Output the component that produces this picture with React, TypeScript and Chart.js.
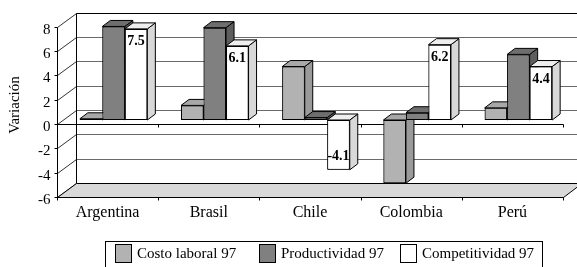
import React, { useEffect, useRef } from "react";
import { Chart, registerables } from "chart.js";

Chart.register(...registerables);

const categories = ["Argentina", "Brasil", "Chile", "Colombia", "Perú"];
const costoLaboral = [0.1, 1.2, 4.4, -5.2, 1.0];
const productividad = [7.7, 7.6, 0.2, 0.6, 5.4];
const competitividad = [7.5, 6.1, -4.1, 6.2, 4.4];
const seriesLabels = ["Costo laboral 97", "Productividad 97", "Competitividad 97"];
const yTicks = [-6, -4, -2, 0, 2, 4, 6, 8];
const yTitle = "Variación";

const FONT = '"Liberation Serif", "Times New Roman", serif';
const FRONT_COLORS = ["#b2b2b2", "#808080", "#ffffff"];
const TOP_COLORS = ["#a8a8a8", "#6e6e6e", "#eeeeee"];
const SIDE_COLORS = ["#9a9a9a", "#5e5e5e", "#d8d8d8"];

// depth offsets relative to the bar front plane
const FR = { dx: -6, dy: 4 };
const BK = { dx: 13, dy: -10 };
const BD = { dx: 8, dy: -6 };

const crisp = (v: number) => Math.round(v) + 0.5;

function line(ctx: CanvasRenderingContext2D, x1: number, y1: number, x2: number, y2: number) {
  ctx.beginPath();
  ctx.moveTo(x1, y1);
  ctx.lineTo(x2, y2);
  ctx.stroke();
}

const threeD = {
  id: "threeD",
  beforeDatasetsDraw(chart: any) {
    const { ctx, chartArea } = chart;
    const { left, right } = chartArea;
    const ys = chart.scales.y;
    const xs = chart.scales.x;
    const yMax = yTicks[yTicks.length - 1];
    const yMin = yTicks[0];
    const py = (v: number) => ys.getPixelForValue(v);
    ctx.save();
    ctx.lineWidth = 1;
    const bl = crisp(left + BK.dx);
    const br = right + BK.dx;
    ctx.fillStyle = "#ffffff";
    ctx.fillRect(bl, py(yMax) + BK.dy, br - bl, py(yMin) - py(yMax));
    yTicks.forEach((v) => {
      const yb = crisp(py(v) + BK.dy);
      ctx.strokeStyle = v === yMax ? "#000" : "#6a6a6a";
      line(ctx, bl, yb, br + 10, yb);
      ctx.strokeStyle = "#333";
      line(ctx, crisp(left + FR.dx), crisp(py(v) + FR.dy), bl, yb);
    });
    ctx.strokeStyle = "#000";
    line(ctx, bl, crisp(py(yMax) + BK.dy), bl, crisp(py(yMin) + BK.dy));
    const fy = crisp(py(yMin) + FR.dy);
    const by = crisp(py(yMin) + BK.dy);
    ctx.beginPath();
    ctx.moveTo(crisp(left + FR.dx), fy);
    ctx.lineTo(crisp(right + FR.dx), fy);
    ctx.lineTo(right + BK.dx, by);
    ctx.lineTo(bl, by);
    ctx.closePath();
    ctx.fillStyle = "#d9d9d9";
    ctx.fill();
    ctx.strokeStyle = "#000";
    ctx.stroke();
    const fx = crisp(left + FR.dx);
    line(ctx, fx, crisp(py(yMax) + FR.dy), fx, fy);
    ctx.fillStyle = "#000";
    ctx.font = `15px ${FONT}`;
    ctx.textAlign = "right";
    ctx.textBaseline = "middle";
    yTicks.forEach((v) => {
      const yf = crisp(py(v) + FR.dy);
      line(ctx, fx - 3, yf, fx, yf);
      ctx.fillText(String(v), fx - 7, yf + 3);
    });
    const y0 = crisp(py(0) + FR.dy);
    line(ctx, fx, y0, crisp(right + FR.dx), y0);
    const cw = (xs.right - xs.left) / categories.length;
    for (let i = 0; i <= categories.length; i++) {
      const bx = crisp(xs.left + i * cw + FR.dx);
      line(ctx, bx, y0, bx, y0 + 3);
      line(ctx, bx, fy, bx, fy + 3);
    }
    ctx.textAlign = "center";
    ctx.font = `16px ${FONT}`;
    categories.forEach((c, i) => {
      ctx.fillText(c, xs.getPixelForValue(i) + FR.dx, fy + 15);
    });
    ctx.restore();
  },
  afterDatasetsDraw(chart: any) {
    const { ctx } = chart;
    ctx.save();
    ctx.lineWidth = 1;
    for (let di = 0; di < 3; di++) {
      const meta = chart.getDatasetMeta(di);
      meta.data.forEach((bar: any) => {
        bar.draw(ctx, chart.chartArea);
        const p = bar.getProps(["x", "y", "base", "width"], true);
        const l = p.x - p.width / 2;
        const r = p.x + p.width / 2;
        const t = Math.min(p.y, p.base);
        const b = Math.max(p.y, p.base);
        ctx.strokeStyle = "#000";
        ctx.lineWidth = 1;
        ctx.beginPath();
        ctx.moveTo(r, t);
        ctx.lineTo(r + BD.dx, t + BD.dy);
        ctx.lineTo(r + BD.dx, b + BD.dy);
        ctx.lineTo(r, b);
        ctx.closePath();
        ctx.fillStyle = SIDE_COLORS[di];
        ctx.fill();
        ctx.stroke();
        ctx.beginPath();
        ctx.moveTo(l, t);
        ctx.lineTo(r, t);
        ctx.lineTo(r + BD.dx, t + BD.dy);
        ctx.lineTo(l + BD.dx, t + BD.dy);
        ctx.closePath();
        ctx.fillStyle = TOP_COLORS[di];
        ctx.fill();
        ctx.stroke();
      });
    }
    const meta = chart.getDatasetMeta(2);
    ctx.fillStyle = "#000";
    ctx.font = `bold 14px ${FONT}`;
    ctx.textAlign = "center";
    ctx.textBaseline = "middle";
    meta.data.forEach((bar: any, i: number) => {
      const p = bar.getProps(["x", "y", "base"], true);
      const v = competitividad[i];
      const ty = v >= 0 ? p.y + 12.5 : p.y - 13;
      ctx.fillText(v.toFixed(1), p.x, ty);
    });
    ctx.restore();
  },
  afterDraw(chart: any) {
    const { ctx } = chart;
    ctx.save();
    ctx.fillStyle = "#000";
    ctx.font = `15px ${FONT}`;
    ctx.textAlign = "center";
    ctx.textBaseline = "middle";
    ctx.translate(15, 105);
    ctx.rotate(-Math.PI / 2);
    ctx.fillText(yTitle, 0, 0);
    ctx.restore();
    ctx.save();
    ctx.lineWidth = 1;
    ctx.strokeStyle = "#000";
    ctx.strokeRect(105.5, 241.5, 437, 40);
    const itemX = [115, 259, 400];
    ctx.font = `15px ${FONT}`;
    ctx.textBaseline = "middle";
    ctx.textAlign = "left";
    seriesLabels.forEach((lab, i) => {
      ctx.fillStyle = FRONT_COLORS[i];
      ctx.fillRect(itemX[i] + 0.5, 244.5, 16, 18);
      ctx.strokeRect(itemX[i] + 0.5, 244.5, 16, 18);
      ctx.fillStyle = "#000";
      ctx.fillText(lab, itemX[i] + 22, 254);
    });
    ctx.restore();
  },
};

export default function App() {
  const ref = useRef<HTMLCanvasElement | null>(null);
  useEffect(() => {
    if (!ref.current) return;
    const chart = new Chart(ref.current, {
      type: "bar",
      data: {
        labels: categories,
        datasets: [
          { label: seriesLabels[0], data: costoLaboral },
          { label: seriesLabels[1], data: productividad },
          { label: seriesLabels[2], data: competitividad },
        ].map((d, i) => ({
          ...d,
          backgroundColor: FRONT_COLORS[i],
          borderColor: "#000",
          borderWidth: 1,
          borderSkipped: false as any,
          categoryPercentage: 0.667,
          barPercentage: 1,
        })),
      },
      options: {
        responsive: false,
        maintainAspectRatio: false,
        animation: false,
        layout: { padding: { left: 63, right: 8, top: 22.8, bottom: 74.1 } },
        scales: {
          x: { display: false, offset: true },
          y: { display: false, min: -6, max: 8 },
        },
        plugins: { legend: { display: false }, tooltip: { enabled: false } },
      },
      plugins: [threeD],
    });
    let alive = true;
    const fonts: any = (document as any).fonts;
    if (fonts && fonts.load) {
      Promise.all([
        fonts.load('15px "Liberation Serif"'),
        fonts.load('bold 14px "Liberation Serif"'),
      ]).then(() => {
        if (alive) chart.update();
      }).catch(() => {});
    }
    return () => {
      alive = false;
      chart.destroy();
    };
  }, []);
  return (
    <div style={{ position: "fixed", left: 0, top: 0, width: 577, height: 267, background: "#fff" }}>
      <canvas ref={ref} width={577} height={267} style={{ width: 577, height: 267 }} />
    </div>
  );
}
